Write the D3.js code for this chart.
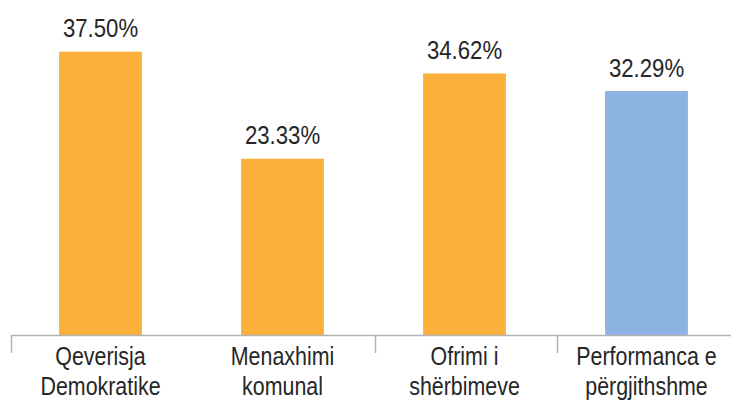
<!DOCTYPE html>
<html><head><meta charset="utf-8">
<script src="https://cdn.jsdelivr.net/npm/d3@7"></script>
<style>
html,body{margin:0;padding:0;background:#fff;}
text{font-family:"Liberation Sans","Arial",sans-serif;}
</style></head>
<body>
<svg id="chart" width="731" height="401"></svg>
<script>
const categories = [["Qeverisja","Demokratike"],["Menaxhimi","komunal"],["Ofrimi i","shërbimeve"],["Performanca e","përgjithshme"]];
const values = [37.50, 23.33, 34.62, 32.29];
const valueLabels = ["37.50%","23.33%","34.62%","32.29%"];
const barColors = ["#FBB03B","#FBB03B","#FBB03B","#8DB3E2"];
const tickIndices = [0,2,3]; // boundaries with visible tick marks

const svg = d3.select("#chart");
const W = 731, H = 401;
const baseY = 335;
const x = d3.scaleBand().domain(d3.range(values.length)).range([11, 739]).paddingInner(0.545).paddingOuter(0.2725);
const y = d3.scaleLinear().domain([0, 40]).range([baseY, baseY - 302.2]);
const cx = i => x(i) - 1.5 + x.bandwidth()/2;

svg.selectAll("rect.bar").data(values).join("rect")
  .attr("class","bar")
  .attr("x",(d,i)=>x(i) - 1.5)
  .attr("width",x.bandwidth())
  .attr("y",d=>y(d))
  .attr("height",d=>baseY - y(d))
  .attr("fill",(d,i)=>barColors[i]);

svg.selectAll("g.val").data(values).join("g")
  .attr("class","val")
  .attr("transform",(d,i)=>`translate(${cx(i)},${y(d) - 14.5}) scale(0.87,1)`)
  .append("text")
  .attr("text-anchor","middle")
  .attr("font-size",25.5)
  .attr("fill","#262626")
  .text((d,i)=>valueLabels[i]);

// axis line
svg.append("line").attr("x1",11).attr("x2",W).attr("y1",baseY+0.5).attr("y2",baseY+0.5)
  .attr("stroke","#b3b3b3").attr("stroke-width",1.5);
const step = x.step();
svg.selectAll("line.tick").data(tickIndices).join("line")
  .attr("class","tick")
  .attr("x1",d=>Math.round(11 + d*step)+0.5).attr("x2",d=>Math.round(11 + d*step)+0.5)
  .attr("y1",baseY).attr("y2",baseY+18)
  .attr("stroke","#b3b3b3").attr("stroke-width",1.5);

const lab = svg.selectAll("g.cat").data(categories).join("g")
  .attr("class","cat")
  .attr("transform",(d,i)=>`translate(${cx(i)},0) scale(0.84,1)`)
  .append("text")
  .attr("text-anchor","middle")
  .attr("font-size",25.5)
  .attr("fill","#262626");
lab.each(function(d,i){
  const t = d3.select(this);
  d.forEach((line,j)=>{
    t.append("tspan").attr("x", 0).attr("y", 365.5 + j*29.5).text(line);
  });
});
</script>
</body></html>
